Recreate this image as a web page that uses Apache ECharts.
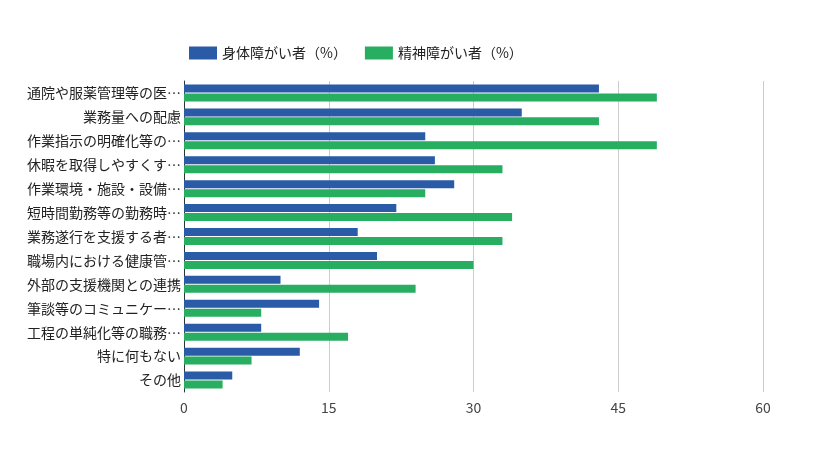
<!DOCTYPE html>
<html><head><meta charset="utf-8">
<script src="https://cdn.jsdelivr.net/npm/echarts@6/dist/echarts.min.js"></script>
<style>html,body{margin:0;padding:0;background:#fff}#c{width:838px;height:462px}</style>
</head><body><div id="c"></div>
<script>
const categories = [
  "通院や服薬管理等の医…",
  "業務量への配慮",
  "作業指示の明確化等の…",
  "休暇を取得しやすくす…",
  "作業環境・施設・設備…",
  "短時間勤務等の勤務時…",
  "業務遂行を支援する者…",
  "職場内における健康管…",
  "外部の支援機関との連携",
  "筆談等のコミュニケー…",
  "工程の単純化等の職務…",
  "特に何もない",
  "その他"
];
const seriesNames = ["身体障がい者（%）", "精神障がい者（%）"];
const physical = [43, 35, 25, 26, 28, 22, 18, 20, 10, 14, 8, 12, 5];
const mental   = [49, 43, 49, 33, 25, 34, 33, 30, 24, 8, 17, 7, 4];
const xTicks = [0, 15, 30, 45, 60];

const font = "'Noto Sans CJK JP', 'Noto Sans', sans-serif";
const chart = echarts.init(document.getElementById('c'));
chart.setOption({
  animation: false,
  textStyle: { fontFamily: font },
  legend: {
    top: 41, left: 184, icon: 'rect',
    itemWidth: 28, itemHeight: 13, itemGap: 18,
    textStyle: { fontSize: 14, color: '#222', fontFamily: font },
    data: seriesNames
  },
  grid: { left: 184, right: 75, top: 81, bottom: 70, containLabel: false },
  xAxis: {
    type: 'value', min: xTicks[0], max: xTicks[xTicks.length - 1], interval: 15,
    axisLine: { show: false }, axisTick: { show: false },
    axisLabel: { fontSize: 14, color: '#444', margin: 9, fontFamily: font },
    splitLine: { show: true, lineStyle: { color: '#cccccc', width: 1 } }
  },
  yAxis: {
    type: 'category', inverse: true, data: categories,
    axisLine: { show: true, lineStyle: { color: '#333', width: 1 } },
    axisTick: { show: false },
    axisLabel: { fontSize: 14, color: '#222', margin: 3, fontFamily: font }
  },
  series: [
    { name: seriesNames[0], type: 'bar', data: physical, barWidth: 8, barGap: '12%',
      itemStyle: { color: '#2a5ba6' } },
    { name: seriesNames[1], type: 'bar', data: mental, barWidth: 8,
      itemStyle: { color: '#27ae60' } }
  ]
});
</script></body></html>
